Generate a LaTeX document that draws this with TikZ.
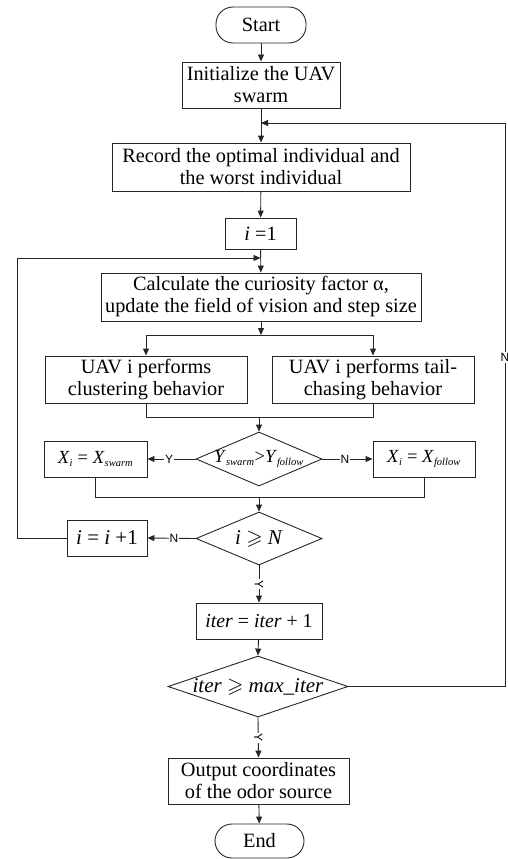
\documentclass[tikz,border=0pt]{standalone}
\usepackage{fontspec}
\usepackage{amssymb}
\setmainfont{Liberation Serif}
\newfontfamily\lblfont{Liberation Sans}
\usetikzlibrary{shapes.geometric,arrows.meta}
\begin{document}
\begin{tikzpicture}[x=1pt,y=-1pt,
  every node/.style={font=\fontsize{20.3}{22}\selectfont},
  box/.style={draw=black!85,line width=0.9pt,rectangle,inner sep=0pt,align=center},
  term/.style={draw=black!85,line width=0.9pt,rectangle,rounded corners=17pt,inner sep=0pt,align=center},
  dia/.style={draw=black!85,line width=0.9pt,diamond,inner sep=0pt},
  conn/.style={draw=black!85,line width=0.9pt},
  arr/.style={conn,-{Triangle[length=7pt,width=6pt]}},
  lbl/.style={font=\lblfont\fontsize{12}{14}\selectfont,fill=white,inner sep=1pt}]
\useasboundingbox (0,0) rectangle (508,859);
% nodes
\node[term,minimum width=90pt,minimum height=36pt] (start) at (261,25) {Start};
\node[box,minimum width=158pt,minimum height=46pt] (init) at (261,85) {Initialize the UAV\\swarm};
\node[box,minimum width=298pt,minimum height=48pt] (record) at (261,167) {Record the optimal individual and\\the worst individual};
\node[box,minimum width=71pt,minimum height=31pt] (i1) at (260.5,233.5) {\textit{i} =1};
\node[box,minimum width=320pt,minimum height=48pt] (calc) at (261,297) {Calculate the curiosity factor α,\\update the field of vision and step size};
\node[box,minimum width=202pt,minimum height=47pt] (cl) at (146,379.5) {UAV i performs\\clustering behavior};
\node[box,minimum width=202pt,minimum height=47pt] (tc) at (373,379.5) {UAV i performs tail-\\chasing behavior};
\node[dia,minimum width=126pt,minimum height=54pt] (d1) at (259,459) {};
\node[font=\fontsize{18.5}{22}\selectfont] (d1t) at (259,459) {\textit{Y}\textsubscript{\fontsize{10.5}{12}\selectfont\textit{swarm}}>\textit{Y}\textsubscript{\fontsize{10.5}{12}\selectfont\textit{follow}}};
\node[box,minimum width=103pt,minimum height=36pt,font=\fontsize{18.5}{22}\selectfont] (xs) at (95.5,459) {\textit{X}\textsubscript{\fontsize{10.5}{12}\selectfont\textit{i}} = \textit{X}\textsubscript{\fontsize{10.5}{12}\selectfont\textit{swarm}}};
\node[box,minimum width=102pt,minimum height=36pt,font=\fontsize{18.5}{22}\selectfont] (xf) at (424,459) {\textit{X}\textsubscript{\fontsize{10.5}{12}\selectfont\textit{i}} = \textit{X}\textsubscript{\fontsize{10.5}{12}\selectfont\textit{follow}}};
\node[dia,minimum width=126pt,minimum height=53pt] (d2) at (259,538.5) {};
\node[font=\fontsize{21}{24}\selectfont] (d2t) at (259,538.5) {\textit{i} $\geqslant$ \textit{N}};
\node[box,minimum width=80pt,minimum height=36pt,font=\fontsize{21}{24}\selectfont] (inc) at (107,538) {\textit{i} = \textit{i} +1};
\node[box,minimum width=126pt,minimum height=36pt,font=\fontsize{19.8}{22}\selectfont] (iter) at (259,621) {\textit{iter} = \textit{iter} + 1};
\node[dia,minimum width=180pt,minimum height=61pt] (d3) at (258,686.5) {};
\node[font=\fontsize{21}{24}\selectfont] (d3t) at (258,686.5) {\textit{iter} $\geqslant$ \textit{max\_iter}};
\node[box,minimum width=181pt,minimum height=46pt] (out) at (258.5,781) {Output coordinates\\of the odor source};
\node[term,minimum width=89pt,minimum height=34pt] (end) at (259.5,841) {End};
% helper coordinates
\coordinate (fb) at (261,123);
\coordinate (fbr) at (505,123);
\coordinate (lp) at (260.5,258);
\coordinate (lpl) at (17,258);
\coordinate (br) at (261,335);
\coordinate (m1) at (259,417);
\coordinate (m2) at (259,497);
% connectors
\draw[arr] (start) -- (init);
\draw[arr] (init) -- (record);
\draw[arr] (record) -- (i1);
\draw[arr] (i1) -- (calc);
\draw[arr] (calc) -- (br);
\draw[arr] (br) -| (cl.north);
\draw[arr] (br) -| (tc.north);
\draw[conn] (cl.south) |- (m1);
\draw[conn] (tc.south) |- (m1);
\draw[arr] (m1) -- (d1.north);
\draw[arr] (d1.west) -- node[lbl,pos=0.55] (ly1) {Y} (xs.east);
\draw[arr] (d1.east) -- node[lbl,pos=0.45] (ln1) {N} (xf.west);
\draw[conn] (xs.south) |- (m2);
\draw[conn] (xf.south) |- (m2);
\draw[arr] (m2) -- (d2.north);
\draw[arr] (d2.west) -- node[lbl,pos=0.45] (ln2) {N} (inc.east);
\draw[arr] (inc.west) -- (inc.west -| lpl) -- (lpl) -- (lp);
\draw[arr] (d2.south) -- node[lbl,rotate=-90,pos=0.5] (ly2) {Y} (iter.north);
\draw[arr] (iter) -- (d3.north);
\draw[arr] (d3.south) -- node[lbl,rotate=-90,pos=0.5] (ly3) {Y} (out.north);
\draw[arr] (out) -- (end);
\draw[arr] (d3.east) -- (d3.east -| fbr) -- node[lbl,pos=0.584] (ln3) {N} (fbr) -- (fb);
\end{tikzpicture}
\end{document}
